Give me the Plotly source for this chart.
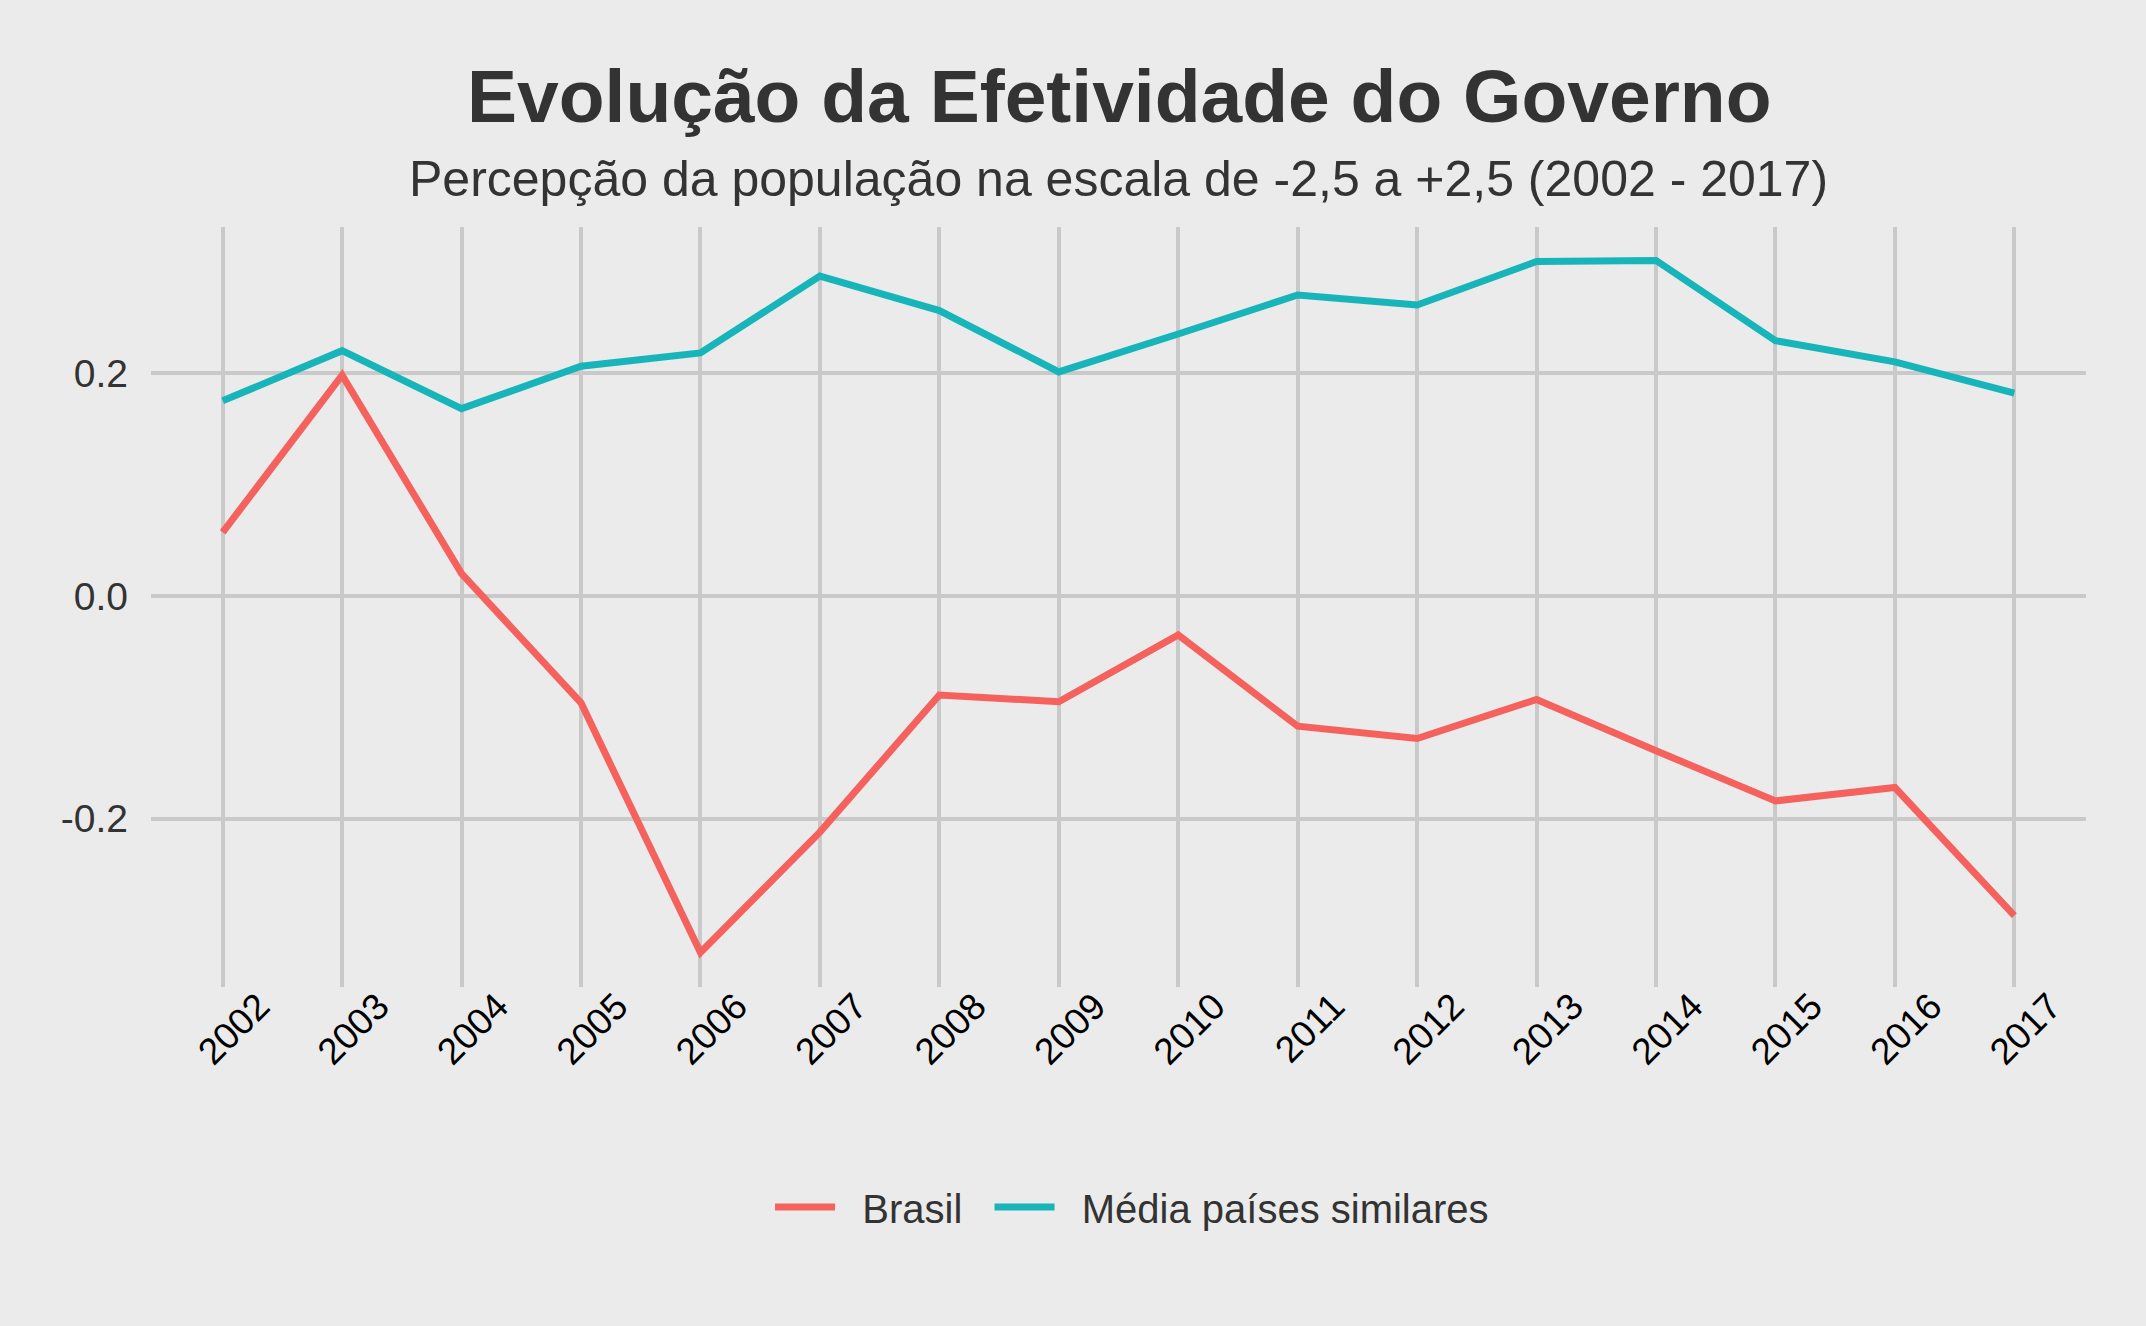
import plotly.graph_objects as go

years = [2002, 2003, 2004, 2005, 2006, 2007, 2008, 2009, 2010, 2011, 2012, 2013, 2014, 2015, 2016, 2017]
brasil = [0.057, 0.198, 0.020, -0.096, -0.320, -0.212, -0.089, -0.095, -0.035, -0.117, -0.128, -0.093, -0.139, -0.184, -0.172, -0.287]
media = [0.175, 0.220, 0.168, 0.206, 0.218, 0.287, 0.256, 0.201, 0.235, 0.270, 0.261, 0.300, 0.301, 0.229, 0.210, 0.182]
year_labels = [str(y) for y in years]
y_ticks = [-0.2, 0.0, 0.2]
y_tick_labels = ["-0.2", "0.0", "0.2"]
series_names = ["Brasil", "Média países similares"]

title_text = "Evolução da Efetividade do Governo"
subtitle_text = "Percepção da população na escala de -2,5 a +2,5 (2002 - 2017)"

BG = "#EBEBEB"
GRID = "#C9C9C9"
FONT = "Liberation Sans, Arial, Helvetica, sans-serif"
NB = "\u00a0"

fig = go.Figure()
fig.add_trace(go.Scatter(x=years, y=brasil, mode="lines", name=NB * 2 + series_names[0] + NB * 2,
                         line=dict(color="#F5625D", width=7)))
fig.add_trace(go.Scatter(x=years, y=media, mode="lines", name=NB * 2 + series_names[1],
                         line=dict(color="#17B5B9", width=7)))

W, H = 2146, 1326
L, R, T, B = 151, 60, 227, 339
ph = H - T - B

def py(pix):
    return (H - B - pix) / ph

fig.update_layout(
    width=W, height=H,
    margin=dict(l=L, r=R, t=T, b=B, pad=0),
    paper_bgcolor=BG, plot_bgcolor=BG,
    font=dict(family=FONT, color="#333333"),
    showlegend=True,
    legend=dict(orientation="h", x=0.507, xanchor="center", y=py(1207), yanchor="middle",
                font=dict(size=40, color="#333333"), bgcolor="rgba(0,0,0,0)",
                itemwidth=60),
    xaxis=dict(range=[2001.4, 2017.6], tickmode="array", tickvals=years, ticktext=year_labels,
               tickangle=-45, tickfont=dict(size=37, color="#000000"),
               showgrid=True, gridcolor=GRID, gridwidth=4, zeroline=False, showline=False,
               ticks="", ticklabelshift=36, ticklabelstandoff=-11),
    yaxis=dict(range=[-0.351, 0.331], tickmode="array", tickvals=y_ticks, ticktext=y_tick_labels,
               tickfont=dict(size=39, color="#333333"),
               showgrid=True, gridcolor=GRID, gridwidth=4, zeroline=False, showline=False,
               ticks="", ticklabelstandoff=22),
    annotations=[
        dict(text="<b>" + title_text + "</b>", xref="paper", yref="paper", x=0.5, y=py(96),
             xanchor="center", yanchor="middle", showarrow=False,
             font=dict(size=75, color="#333333", family=FONT)),
        dict(text=subtitle_text, xref="paper", yref="paper", x=0.5, y=py(179),
             xanchor="center", yanchor="middle", showarrow=False,
             font=dict(size=50, color="#333333", family=FONT)),
    ],
)

fig.write_html("out.html")
